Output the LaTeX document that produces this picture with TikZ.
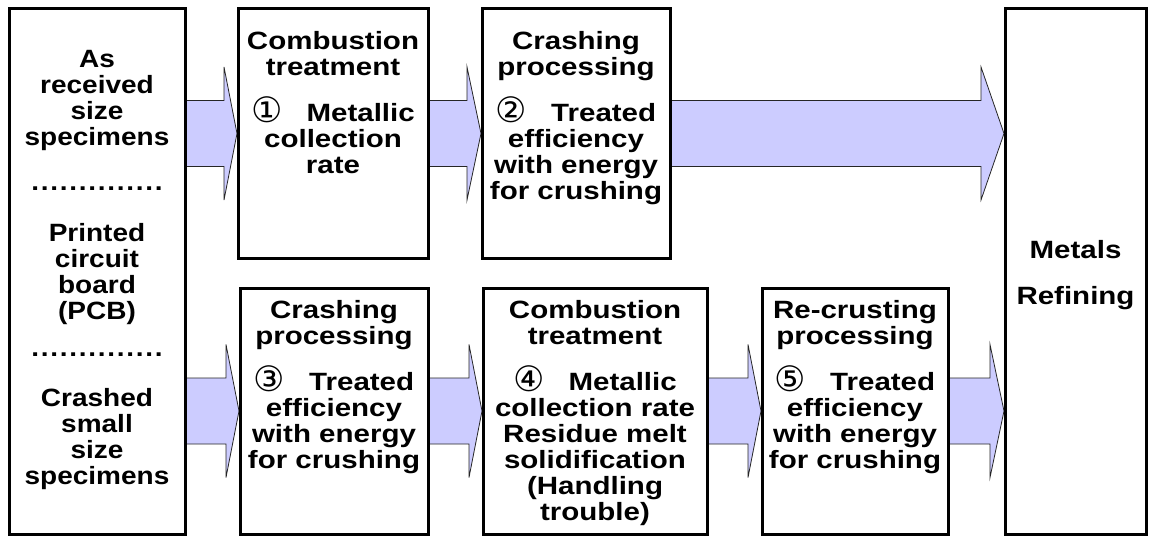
\documentclass[tikz,border=0pt]{standalone}
\usepackage{fontspec}
\newfontfamily\lblfont{Liberation Sans}[FakeStretch=1.18]
\newfontfamily\srcfont{Liberation Sans}[FakeStretch=1.12]
\newfontfamily\cnumfont{DejaVu Sans}
\usetikzlibrary{calc,backgrounds}
\definecolor{arrowfill}{HTML}{CCCCFF}
\newcommand\cn[1]{\raisebox{-1.5pt}{\smash{\cnumfont\mdseries\fontsize{35}{26}\selectfont #1}}\hspace{24pt}}
\newcommand\dotline{\makebox[133pt]{\xleaders\hbox to 9.5pt{\hss.\hss}\hfill}}
\newcommand\blockarrow[4]{%
  \coordinate (#1-#2-s) at (#1.east |- #3.center);
  \coordinate (#1-#2-t) at (#2.west |- #3.center);
  \draw[barrow] ($(#1-#2-s)+(0,-33)$) -- ($(#1-#2-t)+(-#4,-33)$) -- ($(#1-#2-t)+(-#4,-66.5)$)
    -- ($(#1-#2-t)+(-1,0)$) -- ($(#1-#2-t)+(-#4,66.5)$) -- ($(#1-#2-t)+(-#4,33)$)
    -- ($(#1-#2-s)+(0,33)$) -- cycle;
}
\begin{document}
\begin{tikzpicture}[x=1pt,y=-1pt,
  box/.style={draw=black, line width=3pt, rectangle, inner sep=0pt, outer sep=0pt},
  txt/.style={font=\lblfont\bfseries\fontsize{25}{26}\selectfont, align=center, inner sep=0pt, anchor=north},
  srctxt/.style={txt, font=\srcfont\bfseries\fontsize{25}{26}\selectfont},
  barrow/.style={fill=arrowfill, draw=black!85, line width=0.8pt, line join=miter}]
\useasboundingbox (0,0) rectangle (1150,537);

% boxes
\node[box, minimum width=176pt, minimum height=525pt] (src) at (97,271.5) {};
\node[box, minimum width=190pt, minimum height=249pt] (b1) at (333,133.5) {};
\node[box, minimum width=188pt, minimum height=249pt] (b2) at (576,133.5) {};
\node[box, minimum width=141pt, minimum height=525pt] (ref) at (1075.5,271.5) {};
\node[box, minimum width=188pt, minimum height=246pt] (b3) at (334,411) {};
\node[box, minimum width=224pt, minimum height=246pt] (b4) at (595,411) {};
\node[box, minimum width=186pt, minimum height=246pt] (b5) at (855,411) {};

% texts
\node[srctxt] (src-t) at (src.north |- 0,50) {As\\received\\size\\specimens\\[19pt]\dotline\\[25pt]Printed\\circuit\\board\\(PCB)\\[11pt]\dotline\\[24pt]Crashed\\small\\size\\specimens};
\node[txt] (b1-t) at (b1.north |- 0,31) {Combustion\\treatment\\[20pt]\cn{①}Metallic\\collection\\rate};
\node[txt] (b2-t) at (b2.north |- 0,31) {Crashing\\processing\\[20pt]\cn{②}Treated\\efficiency\\with energy\\for crushing};
\node[txt] (b3-t) at (b3.north |- 0,300) {Crashing\\processing\\[20pt]\cn{③}Treated\\efficiency\\with energy\\for crushing};
\node[txt] (b4-t) at (b4.north |- 0,300) {Combustion\\treatment\\[20pt]\cn{④}Metallic\\collection rate\\Residue melt\\solidification\\(Handling\\trouble)};
\node[txt] (b5-t) at (b5.north |- 0,300) {Re-crusting\\processing\\[20pt]\cn{⑤}Treated\\efficiency\\with energy\\for crushing};
\node[txt] (ref-t) at (ref.north |- 0,240) {Metals\\[20pt]Refining};

% block arrows
\begin{scope}[on background layer]
\blockarrow{src}{b1}{b1}{14}
\blockarrow{b1}{b2}{b2}{15}
\blockarrow{b2}{ref}{b2}{24}
\blockarrow{src}{b3}{b3}{14}
\blockarrow{b3}{b4}{b4}{14}
\blockarrow{b4}{b5}{b5}{14}
\blockarrow{b5}{ref}{b5}{15}
\end{scope}
\end{tikzpicture}
\end{document}
